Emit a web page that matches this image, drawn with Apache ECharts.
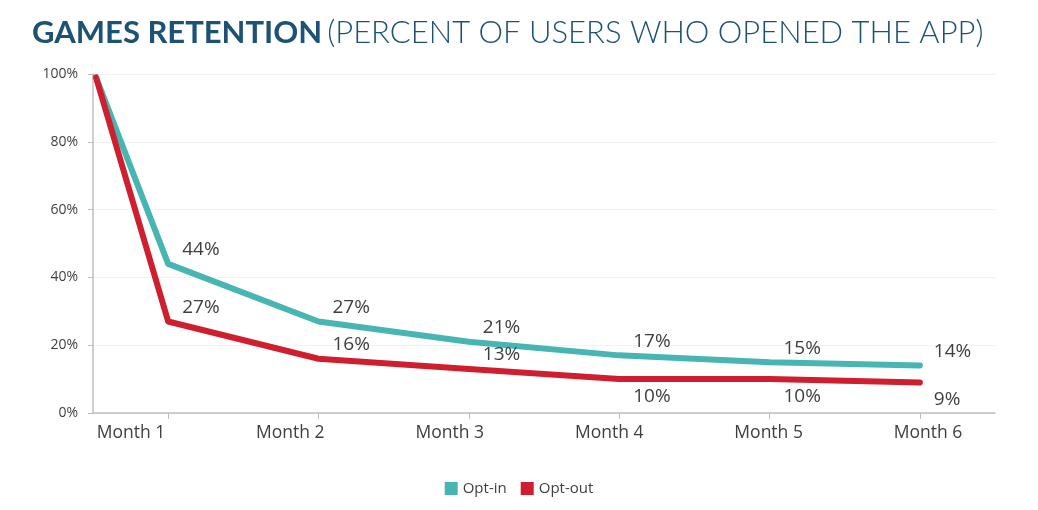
<!DOCTYPE html>
<html><head><meta charset="utf-8">
<script src="https://cdn.jsdelivr.net/npm/echarts@6/dist/echarts.min.js"></script>
<style>html,body{margin:0;padding:0;background:#fff}#c{width:1038px;height:510px}</style>
</head><body><div id="c"></div>
<script>
var months = ['Month 1','Month 2','Month 3','Month 4','Month 5','Month 6'];
var monthPos = [1, 2, 3, 4, 5, 6];
var startPos = 0.52;
var optIn = [99, 44, 27, 21, 17, 15, 14];
var optOut = [99, 27, 16, 13, 10, 10, 9];
var optOutBelow = [false, false, false, false, true, true, true];

function pts(vals){
  var out = [[startPos, vals[0]]];
  for (var i = 1; i < vals.length; i++) out.push([monthPos[i-1], vals[i]]);
  return out;
}
var inData = pts(optIn).map(function(p, i){
  return {value: p, label: {show: i > 0}};
});
var outData = pts(optOut).map(function(p, i){
  return {value: p, label: {show: i > 0, position: optOutBelow[i] ? 'bottom' : 'top', distance: optOutBelow[i] ? 5 : 2}};
});

var chart = echarts.init(document.getElementById('c'));
var labelFont = {fontFamily: 'Open Sans', fontSize: 19, color: '#3f3f3f'};
function fmt(p){ return p.value[1] + '%'; }
chart.setOption({
  animation: false,
  title: {
    left: 27, top: 12,
    text: '{b|GAMES RETENTION} {l|(PERCENT OF USERS WHO OPENED THE APP)}',
    textStyle: {
      rich: {
        b: {fontFamily: 'Lato', fontWeight: 'bold', fontSize: 31, color: '#1b5275'},
        l: {fontFamily: 'Lato', fontWeight: 300, fontSize: 31, color: '#1b5275'}
      }
    }
  },
  legend: {
    bottom: 9, left: 'center', itemWidth: 13, itemHeight: 13, itemGap: 14,
    icon: 'rect',
    textStyle: {fontFamily: 'Open Sans', fontSize: 15, color: '#3f3f3f'},
    data: ['Opt-in', 'Opt-out']
  },
  grid: {left: 93, right: 43, top: 74, bottom: 97},
  xAxis: [{
    type: 'value', min: 0.5, max: 6.5,
    axisLine: {show: true, lineStyle: {color: '#bfbfbf', width: 1.5}},
    axisTick: {show: true, customValues: monthPos, length: 6, lineStyle: {color: '#bfbfbf'}},
    axisLabel: {show: false},
    splitLine: {show: false}
  }, {
    type: 'value', min: 0.762, max: 6.42, position: 'bottom',
    axisLine: {show: false}, axisTick: {show: false}, splitLine: {show: false},
    axisLabel: {
      customValues: monthPos, margin: 11,
      fontFamily: 'Open Sans', fontSize: 17.5, color: '#3f3f3f',
      formatter: function(v){ return months[Math.round(v) - 1]; }
    }
  }],
  yAxis: {
    type: 'value', min: 0, max: 100, interval: 20,
    axisLine: {show: true, lineStyle: {color: '#bfbfbf', width: 1.5}},
    axisTick: {show: true, inside: false, length: 5, lineStyle: {color: '#bfbfbf'}},
    axisLabel: {fontFamily: 'Open Sans', fontSize: 14, color: '#3f3f3f', margin: 15,
      formatter: function(v){ return v + '%'; }},
    splitLine: {show: true, lineStyle: {color: '#f2f2f2'}}
  },
  series: [{
    name: 'Opt-in', type: 'line', xAxisIndex: 0, data: inData,
    smooth: false, symbol: 'circle', symbolSize: 5, showSymbol: true, color: '#47b5b2',
    lineStyle: {width: 6, cap: 'round', join: 'round'},
    label: Object.assign({show: true, position: 'top', distance: 2, align: 'left', offset: [14, 0],
      formatter: fmt}, labelFont)
  }, {
    name: 'Opt-out', type: 'line', xAxisIndex: 0, data: outData,
    smooth: false, symbol: 'circle', symbolSize: 5, showSymbol: true, color: '#cf1f2e',
    lineStyle: {width: 6, cap: 'round', join: 'round'},
    label: Object.assign({show: true, position: 'top', distance: 2, align: 'left', offset: [14, 0],
      formatter: fmt}, labelFont)
  }]
});
</script></body></html>
